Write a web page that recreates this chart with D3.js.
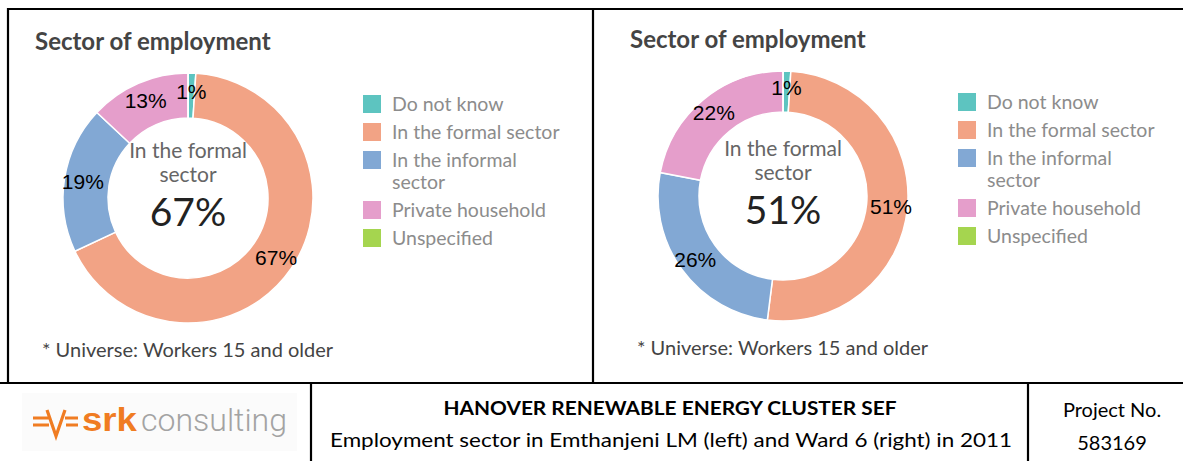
<!DOCTYPE html>
<html>
<head>
<meta charset="utf-8">
<script src="https://cdn.jsdelivr.net/npm/d3@7"></script>
<style>
  body { margin: 0; background: #fff; }
  svg { display: block; }
</style>
</head>
<body>
<script>
// sector categories, shared by both donuts
var categories = ["Do not know", "In the formal sector", "In the informal sector", "Private household", "Unspecified"];
var legendLines = [["Do not know"], ["In the formal sector"], ["In the informal", "sector"], ["Private household"], ["Unspecified"]];
var sliceColors = ["#5dc4c0", "#f2a385", "#82a8d4", "#e59ecb", "#a5d54f"];

// percentages
var emthanjeniValues = [1, 67, 19, 13, 0];
var ward6Values = [1, 51, 26, 22, 0];

var chartTitle = "Sector of employment";
var centreLines = ["In the formal", "sector"];
var footnote = "* Universe: Workers 15 and older";

var footerTitle = "HANOVER RENEWABLE ENERGY CLUSTER SEF";
var footerCaption = "Employment sector in Emthanjeni LM (left) and Ward 6 (right) in 2011";
var projectLines = ["Project No.", "583169"];

var totalWidth = 1183;
var totalHeight = 461;

var svg = d3.select("body").append("svg")
    .attr("width", totalWidth)
    .attr("height", totalHeight);

// frame lines
var frame = svg.append("g").attr("stroke", "#000").attr("stroke-width", 2.2);
frame.append("line").attr("x1", 8).attr("x2", totalWidth).attr("y1", 9).attr("y2", 9);
frame.append("line").attr("x1", 8).attr("x2", 8).attr("y1", 8).attr("y2", 383);
frame.append("line").attr("x1", 593).attr("x2", 593).attr("y1", 9).attr("y2", 383);
frame.append("line").attr("x1", 0).attr("x2", totalWidth).attr("y1", 383).attr("y2", 383);
frame.append("line").attr("x1", 311).attr("x2", 311).attr("y1", 383).attr("y2", totalHeight);
frame.append("line").attr("x1", 1028).attr("x2", 1028).attr("y1", 383).attr("y2", totalHeight);

var pie = d3.pie().sort(null).value(function(d) { return d; });

function drawPanel(dx, dy, values, innerR) {
    var g = svg.append("g").attr("transform", "translate(" + dx + "," + dy + ")");
    var cx = 188, cy = 198, outerR = 125;

    g.append("text")
        .attr("x", 35).attr("y", 50)
        .style("font-family", "Lato, sans-serif")
        .style("font-weight", "bold")
        .style("font-size", "24px")
        .style("fill", "#444")
        .text(chartTitle);

    var arc = d3.arc().innerRadius(innerR).outerRadius(outerR);
    var labelArc = d3.arc().innerRadius(innerR + 4).outerRadius(outerR + 4);
    var arcs = pie(values);

    var donut = g.append("g").attr("transform", "translate(" + cx + "," + cy + ")");
    donut.selectAll("path.slice")
        .data(arcs)
        .enter().append("path")
        .attr("class", "slice")
        .attr("d", arc)
        .attr("fill", function(d, i) { return sliceColors[i]; })
        .attr("stroke", "#fff")
        .attr("stroke-width", 1.5);

    donut.selectAll("text.pct")
        .data(arcs.filter(function(d) { return d.data > 0; }))
        .enter().append("text")
        .attr("class", "pct")
        .attr("transform", function(d) { return "translate(" + labelArc.centroid(d) + ")"; })
        .attr("dy", "0.35em")
        .attr("text-anchor", "middle")
        .style("font-family", "'Liberation Sans', Arial, sans-serif")
        .style("font-size", "21px")
        .style("fill", "#000")
        .text(function(d) { return d.data + "%"; });

    // centre text shows the formal sector share
    donut.selectAll("text.centre")
        .data(centreLines)
        .enter().append("text")
        .attr("class", "centre")
        .attr("x", 0)
        .attr("y", function(d, i) { return -40 + i * 24; })
        .attr("text-anchor", "middle")
        .style("font-family", "Lato, sans-serif")
        .style("font-size", "21px")
        .style("fill", "#666")
        .text(function(d) { return d; });

    donut.append("text")
        .attr("x", 0).attr("y", 28)
        .attr("text-anchor", "middle")
        .style("font-family", "Lato, sans-serif")
        .style("font-size", "39px")
        .style("fill", "#222")
        .text(values[1] + "%");

    // legend
    var rowY = [];
    var y = 104;
    legendLines.forEach(function(lines) {
        rowY.push(y);
        y += 28 + (lines.length - 1) * 22;
    });

    var legend = g.selectAll("g.legend")
        .data(categories)
        .enter().append("g")
        .attr("class", "legend")
        .attr("transform", function(d, i) { return "translate(363," + rowY[i] + ")"; });

    legend.append("rect")
        .attr("x", 0).attr("y", -9)
        .attr("width", 18).attr("height", 18)
        .style("fill", function(d, i) { return sliceColors[i]; });

    legend.each(function(d, i) {
        d3.select(this).selectAll("text")
            .data(legendLines[i])
            .enter().append("text")
            .attr("x", 29)
            .attr("y", function(t, j) { return 7 + j * 22; })
            .style("font-family", "Lato, sans-serif")
            .style("font-size", "19.5px")
            .style("fill", "#8c8c8c")
            .text(function(t) { return t; });
    });

    g.append("text")
        .attr("x", 42).attr("y", 357)
        .style("font-family", "Lato, sans-serif")
        .style("font-size", "20px")
        .style("fill", "#444")
        .text(footnote);
}

drawPanel(0, 0, emthanjeniValues, 80);
drawPanel(595, -2, ward6Values, 84);

// footer: logo
var logo = svg.append("g");
logo.append("rect")
    .attr("x", 22).attr("y", 393).attr("width", 275).attr("height", 58)
    .style("fill", "#fbfbfb");
logo.append("path")
    .attr("d", "M33,418 H50 M33,425 H49 M65,418 H78 M66,425 H78 M47,410 L56,436 L65,410")
    .attr("fill", "none")
    .attr("stroke", "#f07c22")
    .attr("stroke-width", 3.2);
logo.append("text")
    .attr("x", 82).attr("y", 431)
    .attr("textLength", 55)
    .attr("lengthAdjust", "spacingAndGlyphs")
    .style("font-family", "'Liberation Sans', Arial, sans-serif")
    .style("font-weight", "bold")
    .style("font-size", "33px")
    .style("fill", "#f07c22")
    .text("srk");
logo.append("text")
    .attr("x", 141).attr("y", 431)
    .attr("textLength", 146)
    .attr("lengthAdjust", "spacingAndGlyphs")
    .style("font-family", "Roboto, sans-serif")
    .style("font-weight", "300")
    .style("font-size", "31px")
    .style("fill", "#a3a3a3")
    .text("consulting");

// footer: title block
svg.append("text")
    .attr("x", 670).attr("y", 415)
    .attr("text-anchor", "middle")
    .attr("textLength", 453)
    .attr("lengthAdjust", "spacingAndGlyphs")
    .style("font-family", "Lato, sans-serif")
    .style("font-weight", "bold")
    .style("font-size", "18px")
    .style("fill", "#000")
    .text(footerTitle);

svg.append("text")
    .attr("x", 671).attr("y", 447)
    .attr("text-anchor", "middle")
    .attr("textLength", 682)
    .attr("lengthAdjust", "spacingAndGlyphs")
    .style("font-family", "Lato, sans-serif")
    .style("font-size", "20px")
    .style("fill", "#000")
    .text(footerCaption);

svg.selectAll("text.project")
    .data(projectLines)
    .enter().append("text")
    .attr("class", "project")
    .attr("x", 1112)
    .attr("y", function(d, i) { return 417 + i * 33; })
    .attr("text-anchor", "middle")
    .style("font-family", "Lato, sans-serif")
    .style("font-size", "20px")
    .style("fill", "#000")
    .text(function(d) { return d; });
</script>
</body>
</html>
